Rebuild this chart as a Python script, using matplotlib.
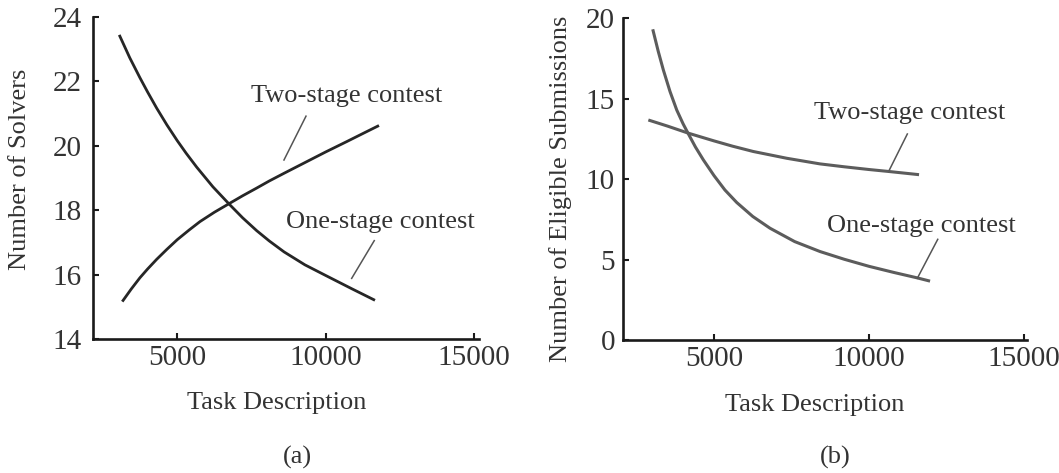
import matplotlib.pyplot as plt

# Data
# (a) Number of solvers vs task description length
a_one_x = [3046, 3400, 3743, 4000, 4306, 4650, 5000, 5300, 5654, 6200, 6752, 7200,
           7675, 8100, 8600, 9300, 10000, 10876, 11661]
a_one_y = [23.43, 22.72, 22.1, 21.66, 21.16, 20.64, 20.15, 19.76, 19.33, 18.72, 18.18, 17.76,
           17.36, 17.04, 16.7, 16.3, 15.97, 15.56, 15.2]
a_two_x = [3147, 3450, 3743, 4000, 4306, 4650, 5000, 5400, 5765, 6250, 6752, 7200,
           7675, 8100, 8600, 9300, 10000, 10707, 11250, 11796]
a_two_y = [15.16, 15.55, 15.9, 16.17, 16.47, 16.78, 17.08, 17.38, 17.64, 17.93, 18.2, 18.44,
           18.68, 18.9, 19.14, 19.47, 19.8, 20.12, 20.37, 20.62]

# (b) Number of eligible submissions vs task description length
b_one_x = [3023, 3200, 3365, 3580, 3797, 4000, 4171, 4400, 4655, 5000, 5350, 5732,
           6250, 6806, 7600, 8419, 9200, 10000, 10800, 11538, 11968]
b_one_y = [19.32, 17.95, 16.79, 15.45, 14.3, 13.45, 12.82, 12.0, 11.2, 10.22, 9.33, 8.55,
           7.68, 6.95, 6.12, 5.5, 5.02, 4.58, 4.2, 3.87, 3.66]
b_two_x = [2881, 3500, 4171, 5000, 5600, 6268, 7345, 8419, 9200, 10000, 10677, 11613]
b_two_y = [13.68, 13.3, 12.86, 12.38, 12.05, 11.72, 11.3, 10.95, 10.77, 10.6, 10.47, 10.28]

x_ticks = [5000, 10000, 15000]
a_y_ticks = [14, 16, 18, 20, 22, 24]
b_y_ticks = [0, 5, 10, 15, 20]

plt.rcParams['font.family'] = ['Liberation Serif', 'DejaVu Serif']
txt = '#333333'
fs = 19

fig = plt.figure(figsize=(10.59, 4.73), dpi=100)
ax1 = fig.add_axes([0.0875, 0.2833, 0.3648, 0.6818])
ax2 = fig.add_axes([0.5886, 0.2812, 0.3815, 0.6800])

def style(ax, yticks, ypad):
    for s in ['top', 'right']:
        ax.spines[s].set_visible(False)
    for s in ['left', 'bottom']:
        ax.spines[s].set_linewidth(1.9)
        ax.spines[s].set_color('#1a1a1a')
    ax.set_xticks(x_ticks)
    ax.set_yticks(yticks)
    ax.tick_params(direction='in', length=4, width=1.5, color='#1a1a1a',
                   labelsize=21, labelcolor=txt)
    ax.tick_params(axis='x', pad=4)
    ax.tick_params(axis='y', pad=ypad)

# Panel (a)
ax1.plot(a_one_x, a_one_y, color='#262626', lw=2.0, solid_capstyle='butt')
ax1.plot(a_two_x, a_two_y, color='#262626', lw=2.0, solid_capstyle='butt')
ax1.set_xlim(2150, 15165)
ax1.set_ylim(14, 24)
style(ax1, a_y_ticks, 8)
ax1.plot([9337, 8595], [20.91, 19.55], color='#555555', lw=1.1)
ax1.plot([11637, 10876], [17.05, 15.88], color='#555555', lw=1.1)
ax1.text(10718, 21.35, 'Two-stage contest', ha='center', va='baseline', fontsize=fs, color=txt)
ax1.text(11836, 17.43, 'One-stage contest', ha='center', va='baseline', fontsize=fs, color=txt)

# Panel (b)
ax2.plot(b_one_x, b_one_y, color='#5c5c5c', lw=2.2, solid_capstyle='butt')
ax2.plot(b_two_x, b_two_y, color='#5c5c5c', lw=2.2, solid_capstyle='butt')
ax2.set_xlim(2074, 15106)
ax2.set_ylim(0, 20)
style(ax2, b_y_ticks, 6)
ax2.plot([11235, 10655], [12.81, 10.57], color='#555555', lw=1.1)
ax2.plot([12216, 11558], [6.26, 3.84], color='#555555', lw=1.1)
ax2.text(11297, 13.73, 'Two-stage contest', ha='center', va='baseline', fontsize=fs, color=txt)
ax2.text(11700, 6.74, 'One-stage contest', ha='center', va='baseline', fontsize=fs, color=txt)

# Axis labels and panel letters
fig.text(0.2616, 0.1353, 'Task Description', ha='center', va='baseline', fontsize=fs, color=txt)
fig.text(0.7696, 0.131, 'Task Description', ha='center', va='baseline', fontsize=fs, color=txt)
fig.text(0.0189, 0.6416, 'Number of Solvers', rotation=90, ha='center', va='center', fontsize=fs, color=txt)
fig.text(0.5297, 0.60, 'Number of Eligible Submissions', rotation=90, ha='center', va='center', fontsize=fs, color=txt)
fig.text(0.2809, 0.0338, '(a)', ha='center', va='center', fontsize=fs, color=txt)
fig.text(0.789, 0.0338, '(b)', ha='center', va='center', fontsize=fs, color=txt)

fig.savefig('out.png', dpi=100)
